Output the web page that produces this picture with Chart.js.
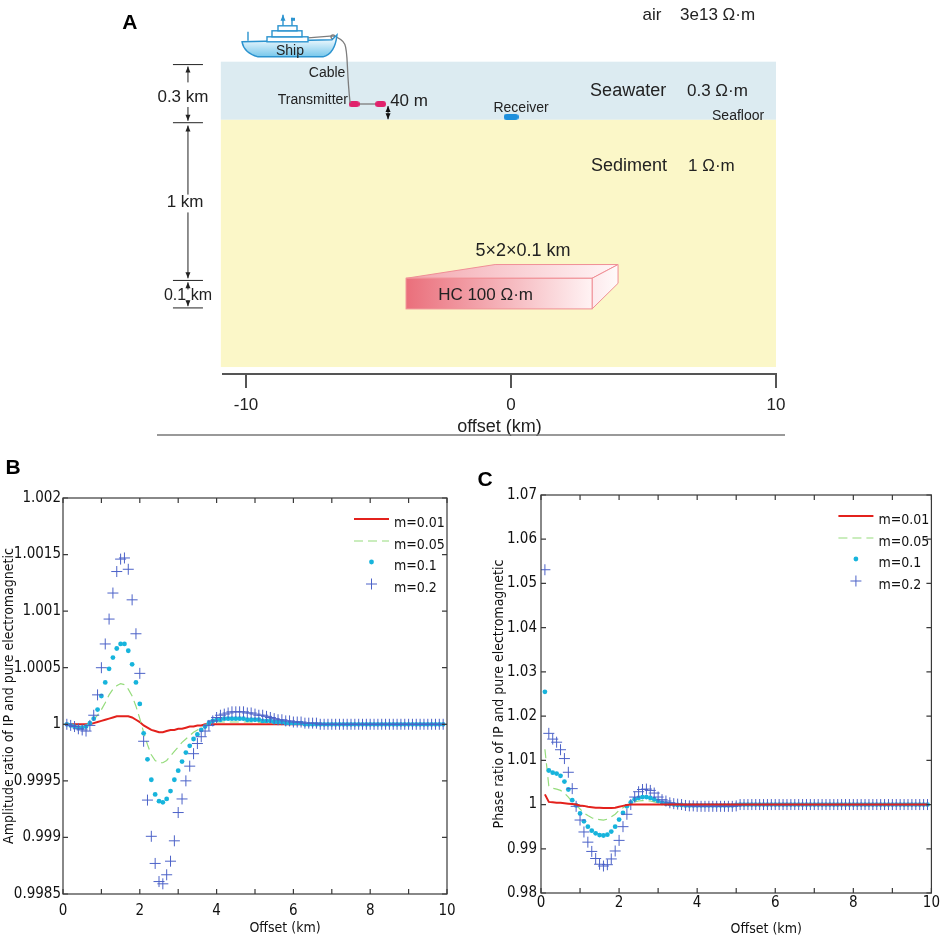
<!DOCTYPE html>
<html>
<head>
<meta charset="utf-8">
<script src="https://cdn.jsdelivr.net/npm/chart.js@4.4.1/dist/chart.umd.min.js"></script>
<style>
  html, body { margin: 0; padding: 0; background: #fff; }
  #page { position: relative; width: 941px; height: 945px; overflow: hidden; }
  .panel { position: absolute; }
</style>
</head>
<body>
<div id="page">
  <div class="panel" style="left:0;top:0;width:941px;height:440px"><canvas id="chartA"></canvas></div>
  <div class="panel" style="left:0;top:455px;width:470px;height:490px"><canvas id="chartB"></canvas></div>
  <div class="panel" style="left:470px;top:455px;width:471px;height:490px"><canvas id="chartC"></canvas></div>
</div>
<script>
// ---------------------------------------------------------------
// Data
// ---------------------------------------------------------------

var seriesNames = ['m=0.01', 'm=0.05', 'm=0.1', 'm=0.2'];

// offsets (km) of the marker series
var offsets = [
  0.1, 0.2, 0.3, 0.4, 0.5, 0.6, 0.7, 0.8, 0.9, 1.0,
  1.1, 1.2, 1.3, 1.4, 1.5, 1.6, 1.7, 1.8, 1.9, 2.0,
  2.1, 2.2, 2.3, 2.4, 2.5, 2.6, 2.7, 2.8, 2.9, 3.0,
  3.1, 3.2, 3.3, 3.4, 3.5, 3.6, 3.7, 3.8, 3.9, 4.0,
  4.1, 4.2, 4.3, 4.4, 4.5, 4.6, 4.7, 4.8, 4.9, 5.0,
  5.1, 5.2, 5.3, 5.4, 5.5, 5.6, 5.7, 5.8, 5.9, 6.0,
  6.1, 6.2, 6.3, 6.4, 6.5, 6.6, 6.7, 6.8, 6.9, 7.0,
  7.1, 7.2, 7.3, 7.4, 7.5, 7.6, 7.7, 7.8, 7.9, 8.0,
  8.1, 8.2, 8.3, 8.4, 8.5, 8.6, 8.7, 8.8, 8.9, 9.0,
  9.1, 9.2, 9.3, 9.4, 9.5, 9.6, 9.7, 9.8, 9.9
];

// offsets (km) of the line series
var lineOffsets = [
  0.1, 0.2, 0.3, 0.4, 0.5, 0.6, 0.7, 0.8, 0.9, 1.0,
  1.1, 1.2, 1.3, 1.4, 1.5, 1.6, 1.7, 1.8, 1.9, 2.0,
  2.1, 2.2, 2.3, 2.4, 2.5, 2.6, 2.7, 2.8, 2.9, 3.0,
  3.1, 3.2, 3.3, 3.4, 3.5, 3.6, 3.7, 3.8, 3.9, 4.0,
  4.5, 5.0, 5.5, 6.0, 7.0, 8.0, 9.0, 9.9
];

// B: amplitude ratio
var ampM001 = [
  1, 1, 1, 1, 1, 1, 1.00000, 1.00001, 1.00002, 1.00003,
  1.00004, 1.00005, 1.00006, 1.00007, 1.00007, 1.00007, 1.00007, 1.00006, 1.00004, 1.00002,
  0.99999, 0.99997, 0.99995, 0.99994, 0.99993, 0.99993, 0.99994, 0.99995, 0.99995, 0.99996,
  0.99996, 0.99997, 0.99998, 0.99998, 0.99999, 0.99999, 1.00000, 1.00000, 1.00000, 1.00000,
  1, 1, 1, 1, 1, 1, 1, 1
];
var ampM005 = [
  1.00000, 1.00000, 0.99999, 0.99998, 0.99998, 0.99999, 1.00001, 1.00004, 1.00008, 1.00013,
  1.00019, 1.00026, 1.00031, 1.00034, 1.00036, 1.00035, 1.00031, 1.00025, 1.00016, 1.00005,
  0.99993, 0.99982, 0.99973, 0.99968, 0.99966, 0.99966, 0.99968, 0.99972, 0.99976, 0.99980,
  0.99984, 0.99987, 0.99990, 0.99993, 0.99995, 0.99997, 0.99999, 1.00000, 1.00001, 1.00002,
  1.00002, 1.00002, 1.00001, 1, 1, 1, 1, 1
];
var ampM01 = [
  1.00000, 0.99999, 0.99998, 0.99997, 0.99997, 0.99998, 1.00001, 1.00005, 1.00013, 1.00025,
  1.00037, 1.00049, 1.00059, 1.00067, 1.00071, 1.00071, 1.00065, 1.00053, 1.00037, 1.00018,
  0.99992, 0.99969, 0.99951, 0.99938, 0.99932, 0.99931, 0.99934, 0.99941, 0.99951, 0.99959,
  0.99967, 0.99975, 0.99981, 0.99987, 0.99991, 0.99995, 0.99998, 1.00001, 1.00003, 1.00004,
  1.00004, 1.00005, 1.00005, 1.00005, 1.00005, 1.00005, 1.00005, 1.00004, 1.00004, 1.00004,
  1.00004, 1.00003, 1.00003, 1.00003, 1.00002, 1.00002, 1.00002, 1.00001, 1.00001, 1.00001,
  1.00001, 1.00001, 1, 1, 1, 1, 1, 1, 1, 1,
  1, 1, 1, 1, 1, 1, 1, 1, 1, 1,
  1, 1, 1, 1, 1, 1, 1, 1, 1, 1,
  1, 1, 1, 1, 1, 1, 1, 1, 1
];
var ampM02 = [
  1.00000, 0.99999, 0.99998, 0.99996, 0.99995, 0.99994, 0.99999, 1.00008, 1.00026, 1.00050,
  1.00071, 1.00093, 1.00116, 1.00135, 1.00146, 1.00147, 1.00137, 1.00110, 1.00080, 1.00045,
  0.99985, 0.99933, 0.99901, 0.99877, 0.99861, 0.99859, 0.99867, 0.99879, 0.99897, 0.99922,
  0.99934, 0.99950, 0.99963, 0.99974, 0.99983, 0.99989, 0.99994, 0.99999, 1.00003, 1.00006,
  1.00008, 1.00009, 1.00010, 1.00011, 1.00011, 1.00011, 1.00011, 1.00010, 1.00010, 1.00009,
  1.00008, 1.00008, 1.00007, 1.00006, 1.00005, 1.00004, 1.00004, 1.00003, 1.00003, 1.00002,
  1.00002, 1.00002, 1.00001, 1.00001, 1.00001, 1.00001, 1, 1, 1, 1,
  1, 1, 1, 1, 1, 1, 1, 1, 1, 1,
  1, 1, 1, 1, 1, 1, 1, 1, 1, 1,
  1, 1, 1, 1, 1, 1, 1, 1, 1
];

// C: phase ratio
var phaseM001 = [
  1.0023, 1.0006, 1.0005, 1.0004, 1.0004, 1.0003, 1.0002, 1.0001, 1.0000, 0.9998,
  0.9997, 0.9995, 0.9994, 0.9993, 0.9993, 0.9992, 0.9992, 0.9992, 0.9993, 0.9995,
  0.9997, 0.9999, 1.0000, 1.0000, 1.0000, 1.0000, 1.0000, 1.0000, 1.0000, 1.0000,
  1, 1, 1, 1, 1, 1, 1, 1, 1, 1,
  1, 1, 1, 1, 1, 1, 1, 1
];
var phaseM005 = [
  1.0125, 1.0042, 1.0037, 1.0035, 1.0032, 1.0026, 1.0017, 1.0006, 0.9999, 0.9990,
  0.9981, 0.9975, 0.9970, 0.9967, 0.9966, 0.9965, 0.9967, 0.9972, 0.9978, 0.9987,
  0.9993, 0.9998, 1.0003, 1.0006, 1.0008, 1.0009, 1.0009, 1.0008, 1.0006, 1.0004,
  1.0002, 1.0001, 1.0000, 1.0000, 0.9999, 0.9999, 0.9999, 0.9999, 0.9999, 0.9999,
  0.9999, 0.9999, 1, 1, 1, 1, 1, 1
];
var phaseM01 = [
  1.0255, 1.0077, 1.0072, 1.0070, 1.0065, 1.0052, 1.0034, 1.0010, 0.9998, 0.9980,
  0.9962, 0.9950, 0.9941, 0.9935, 0.9931, 0.9930, 0.9932, 0.9939, 0.9950, 0.9966,
  0.9981, 0.9996, 1.0005, 1.0012, 1.0015, 1.0017, 1.0017, 1.0015, 1.0012, 1.0008,
  1.0004, 1.0002, 1.0001, 1.0000, 0.9999, 0.9999, 0.9998, 0.9998, 0.9998, 0.9998,
  0.9998, 0.9998, 0.9998, 0.9998, 0.9998, 0.9998, 0.9998, 0.9998, 0.9998, 0.9999,
  1, 1, 1, 1, 1, 1, 1, 1, 1, 1,
  1, 1, 1, 1, 1, 1, 1, 1, 1, 1,
  1, 1, 1, 1, 1, 1, 1, 1, 1, 1,
  1, 1, 1, 1, 1, 1, 1, 1, 1, 1,
  1, 1, 1, 1, 1, 1, 1, 1, 1
];
var phaseM02 = [
  1.0531, 1.0161, 1.0148, 1.0141, 1.0124, 1.0104, 1.0073, 1.0036, 0.9996, 0.9965,
  0.9938, 0.9915, 0.9894, 0.9878, 0.9865, 0.9861, 0.9864, 0.9877, 0.9895, 0.9919,
  0.9950, 0.9978, 1.0000, 1.0017, 1.0029, 1.0034, 1.0035, 1.0032, 1.0026, 1.0017,
  1.0011, 1.0008, 1.0004, 1.0002, 1.0001, 1.0000, 0.9998, 0.9997, 0.9997, 0.9996,
  0.9996, 0.9996, 0.9996, 0.9996, 0.9996, 0.9996, 0.9996, 0.9996, 0.9996, 0.9997,
  1, 1, 1, 1, 1, 1, 1, 1, 1, 1,
  1, 1, 1, 1, 1, 1, 1, 1, 1, 1,
  1, 1, 1, 1, 1, 1, 1, 1, 1, 1,
  1, 1, 1, 1, 1, 1, 1, 1, 1, 1,
  1, 1, 1, 1, 1, 1, 1, 1, 1
];

// A: survey layout (offset in km, schematic depth units)
var axisATicks = [-10, 0, 10];
var transmitterX = [-5.92, -4.92];
var transmitterDepth = 0.219;
var receiverX = [0];
var receiverDepth = 0.285;

// ---------------------------------------------------------------
// Schematic geometry and styles for panel A
// ---------------------------------------------------------------

var narrow = "'Liberation Sans Narrow', 'Arial Narrow', 'DejaVu Sans Condensed', 'Liberation Sans', sans-serif";
var plain = "'Liberation Sans', Arial, sans-serif";

var layersA = [
  { x0: -10.95, x1: 10, top: 0, bottom: 0.3, color: '#dcebf1' },
  { x0: -10.95, x1: 10, top: 0.3, bottom: 1.576, color: '#fbf7c8' }
];
var hcBlock = { x0: -3.96, x1: 3.06, bx0: -0.60, bx1: 4.04, top: 1.118, bottom: 1.276, backTop: 1.047, backBottom: 1.144 };
var shipAnchor = { x: -8.34, y: -0.02 };
var dimX = -12.19;
var dimBars = [0.015, 0.315, 1.129, 1.271];
var dimArrows = [[0.107, 0.025], [0.234, 0.305], [0.686, 0.330], [0.778, 1.118], [1.176, 1.139], [1.232, 1.262]];
var textsA = [
  ['A', -14.38, -0.198, 'bold 21px', 'center'],
  ['air', 5.32, -0.239, '17px', 'center'],
  ['3e13 \u03a9\u00b7m', 6.38, -0.239, '17px', 'left'],
  ['Ship', -8.34, -0.056, '14px', 'center'],
  ['Cable', -6.94, 0.061, '14px', 'center'],
  ['Transmitter', -6.15, 0.198, '14px', 'right'],
  ['40 m', -4.56, 0.203, '17px', 'left'],
  ['Receiver', 0.38, 0.239, '14px', 'center'],
  ['Seawater', 4.42, 0.153, '18px', 'center'],
  ['0.3 \u03a9\u00b7m', 6.64, 0.153, '17px', 'left'],
  ['Seafloor', 8.57, 0.28, '14px', 'center'],
  ['Sediment', 4.45, 0.539, '18px', 'center'],
  ['1 \u03a9\u00b7m', 6.68, 0.539, '17px', 'left'],
  ['5\u00d72\u00d70.1 km', 0.45, 0.976, '18px', 'center'],
  ['HC 100 \u03a9\u00b7m', -2.75, 1.205, '17px', 'left'],
  ['0.3 km', -12.38, 0.183, '17px', 'center'],
  ['1 km', -12.30, 0.727, '17px', 'center'],
  ['0.1 km', -12.19, 1.205, '16px', 'center']
];

// ---------------------------------------------------------------
// Helpers
// ---------------------------------------------------------------

function points(xs, ys) {
  return xs.map(function (x, i) { return { x: x, y: ys[i] }; });
}

function pill(color, w, h) {
  var c = document.createElement('canvas');
  c.width = w; c.height = h;
  var g = c.getContext('2d');
  g.fillStyle = color;
  g.beginPath();
  g.roundRect(0, 0, w, h, h / 2);
  g.fill();
  return c;
}

function arrow(ctx, x, yFrom, yTo) {
  var dir = yTo > yFrom ? 1 : -1;
  ctx.beginPath();
  ctx.moveTo(x, yFrom);
  ctx.lineTo(x, yTo);
  ctx.stroke();
  ctx.beginPath();
  ctx.moveTo(x, yTo);
  ctx.lineTo(x - 2.5, yTo - dir * 6);
  ctx.lineTo(x + 2.5, yTo - dir * 6);
  ctx.closePath();
  ctx.fill();
}

function drawShip(ctx, cx, by) {
  var g = ctx.createLinearGradient(0, by - 18, 0, by);
  g.addColorStop(0, '#eaf7fd');
  g.addColorStop(1, '#6fc4ea');
  ctx.beginPath();
  ctx.moveTo(cx - 48, by - 16);
  ctx.lineTo(cx + 42, by - 18);
  ctx.lineTo(cx + 47, by - 23);
  ctx.quadraticCurveTo(cx + 45, by - 4, cx + 33, by - 1);
  ctx.lineTo(cx - 32, by - 1);
  ctx.quadraticCurveTo(cx - 46, by - 5, cx - 48, by - 16);
  ctx.closePath();
  ctx.fillStyle = g;
  ctx.fill();
  ctx.strokeStyle = '#2b93cf';
  ctx.lineWidth = 1.4;
  ctx.stroke();

  ctx.fillStyle = '#fff';
  [[-23, -21, 41, 5], [-18, -27, 30, 6], [-12, -32, 19, 5]].forEach(function (r) {
    ctx.fillRect(cx + r[0], by + r[1], r[2], r[3]);
    ctx.strokeRect(cx + r[0], by + r[1], r[2], r[3]);
  });

  ctx.fillStyle = '#2b93cf';
  arrow(ctx, cx - 7, by - 32, by - 43);
  ctx.beginPath();
  ctx.moveTo(cx + 2, by - 32); ctx.lineTo(cx + 2, by - 40);
  ctx.moveTo(cx - 42, by - 17); ctx.lineTo(cx - 42, by - 26);
  ctx.stroke();
  ctx.fillRect(cx + 1, by - 40, 4, 3);
}

// ---------------------------------------------------------------
// Plugins
// ---------------------------------------------------------------

var schematic = {
  id: 'schematic',
  beforeDatasetsDraw: function (chart) {
    var ctx = chart.ctx, xs = chart.scales.x, ys = chart.scales.y;
    var X = function (v) { return xs.getPixelForValue(v); };
    var Y = function (v) { return ys.getPixelForValue(v); };
    ctx.save();
    layersA.forEach(function (L) {
      ctx.fillStyle = L.color;
      ctx.fillRect(X(L.x0), Y(L.top), X(L.x1) - X(L.x0), Y(L.bottom) - Y(L.top));
    });

    // hydrocarbon block
    var b = hcBlock;
    ctx.strokeStyle = '#f08f96';
    ctx.lineWidth = 1;
    var gt = ctx.createLinearGradient(X(b.x0), 0, X(b.bx1), 0);
    gt.addColorStop(0, '#f3a6ae'); gt.addColorStop(1, '#fff6f7');
    ctx.beginPath();
    ctx.moveTo(X(b.x0), Y(b.top)); ctx.lineTo(X(b.bx0), Y(b.backTop));
    ctx.lineTo(X(b.bx1), Y(b.backTop)); ctx.lineTo(X(b.x1), Y(b.top));
    ctx.closePath(); ctx.fillStyle = gt; ctx.fill(); ctx.stroke();
    var gs = ctx.createLinearGradient(X(b.x1), 0, X(b.bx1), 0);
    gs.addColorStop(0, '#fde9ec'); gs.addColorStop(1, '#fffafa');
    ctx.beginPath();
    ctx.moveTo(X(b.x1), Y(b.top)); ctx.lineTo(X(b.bx1), Y(b.backTop));
    ctx.lineTo(X(b.bx1), Y(b.backBottom)); ctx.lineTo(X(b.x1), Y(b.bottom));
    ctx.closePath(); ctx.fillStyle = gs; ctx.fill(); ctx.stroke();
    var gf = ctx.createLinearGradient(X(b.x0), 0, X(b.x1), 0);
    gf.addColorStop(0, '#ea6f7b'); gf.addColorStop(1, '#fff3f4');
    ctx.fillStyle = gf;
    ctx.fillRect(X(b.x0), Y(b.top), X(b.x1) - X(b.x0), Y(b.bottom) - Y(b.top));
    ctx.strokeRect(X(b.x0), Y(b.top), X(b.x1) - X(b.x0), Y(b.bottom) - Y(b.top));
    ctx.restore();
  },
  afterDatasetsDraw: function (chart) {
    var ctx = chart.ctx, xs = chart.scales.x, ys = chart.scales.y;
    var X = function (v) { return xs.getPixelForValue(v); };
    var Y = function (v) { return ys.getPixelForValue(v); };
    ctx.save();

    // ship and cable
    var sx = X(shipAnchor.x), sy = Y(shipAnchor.y);
    var tx = X(transmitterX[0]) - 4, ty = Y(transmitterDepth) - 1;
    ctx.strokeStyle = '#7d7d7d';
    ctx.lineWidth = 1.3;
    ctx.beginPath();
    ctx.moveTo(sx + 18, sy - 20);
    ctx.lineTo(sx + 43, sy - 22);
    ctx.bezierCurveTo(sx + 62, sy - 16, tx - 6, ty - 55, tx, ty);
    ctx.stroke();
    ctx.beginPath();
    ctx.arc(sx + 43, sy - 21, 2, 0, Math.PI * 2);
    ctx.stroke();
    drawShip(ctx, sx, sy);

    // 40 m double arrow
    ctx.strokeStyle = '#111';
    ctx.fillStyle = '#111';
    ctx.lineWidth = 1;
    var ax = X(-4.64);
    arrow(ctx, ax, Y(0.262), Y(0.229));
    arrow(ctx, ax, Y(0.262), Y(0.297));

    // dimension marks on the left
    ctx.strokeStyle = '#222';
    ctx.fillStyle = '#222';
    var dx = X(dimX);
    dimBars.forEach(function (v) {
      ctx.beginPath();
      ctx.moveTo(dx - 15, Y(v)); ctx.lineTo(dx + 15, Y(v));
      ctx.stroke();
    });
    dimArrows.forEach(function (a) { arrow(ctx, dx, Y(a[0]), Y(a[1])); });

    // labels
    ctx.textBaseline = 'middle';
    textsA.forEach(function (t) {
      ctx.font = t[3] + ' ' + plain;
      ctx.textAlign = t[4];
      ctx.fillStyle = t[0] === 'A' ? '#000' : '#222';
      ctx.fillText(t[0], X(t[1]), Y(t[2]));
    });

    // separator under panel A
    ctx.strokeStyle = '#777';
    ctx.lineWidth = 1.5;
    ctx.beginPath();
    ctx.moveTo(X(-13.36), Y(1.927));
    ctx.lineTo(X(10.34), Y(1.927));
    ctx.stroke();
    ctx.restore();
  }
};

var boxTicks = {
  id: 'boxTicks',
  afterDraw: function (chart, args, o) {
    var ctx = chart.ctx, a = chart.chartArea, xs = chart.scales.x, ys = chart.scales.y;
    ctx.save();
    ctx.strokeStyle = '#3a3a3a';
    ctx.lineWidth = 1.2;
    ctx.strokeRect(a.left, a.top, a.right - a.left, a.bottom - a.top);
    ctx.beginPath();
    xs.ticks.forEach(function (t) {
      var p = xs.getPixelForValue(t.value);
      ctx.moveTo(p, a.bottom); ctx.lineTo(p, a.bottom - o.len);
      ctx.moveTo(p, a.top); ctx.lineTo(p, a.top + o.len);
    });
    ys.ticks.forEach(function (t) {
      var p = ys.getPixelForValue(t.value);
      ctx.moveTo(a.left, p); ctx.lineTo(a.left + o.len, p);
      ctx.moveTo(a.right, p); ctx.lineTo(a.right - o.len, p);
    });
    ctx.stroke();
    ctx.restore();
  }
};

var insetLegend = {
  id: 'insetLegend',
  afterDatasetsDraw: function (chart, args, o) {
    var ctx = chart.ctx, a = chart.chartArea;
    ctx.save();
    ctx.font = o.size + 'px ' + narrow;
    ctx.textBaseline = 'middle';
    ctx.textAlign = 'left';
    chart.data.datasets.forEach(function (ds, i) {
      var row = a.top + o.rows[i];
      var x0 = a.right + o.sample[0], x1 = a.right + o.sample[1], xm = (x0 + x1) / 2;
      var my = row - 4;
      if (ds.showLine) {
        ctx.strokeStyle = ds.borderColor;
        ctx.lineWidth = ds.borderWidth;
        ctx.setLineDash(ds.borderDash || []);
        ctx.beginPath(); ctx.moveTo(x0, my); ctx.lineTo(x1, my); ctx.stroke();
        ctx.setLineDash([]);
      } else if (ds.pointStyle === 'circle') {
        ctx.fillStyle = ds.backgroundColor;
        ctx.beginPath(); ctx.arc(xm, my, ds.pointRadius, 0, Math.PI * 2); ctx.fill();
      } else {
        ctx.strokeStyle = ds.borderColor;
        ctx.lineWidth = ds.borderWidth;
        ctx.beginPath();
        ctx.moveTo(xm - ds.pointRadius, my); ctx.lineTo(xm + ds.pointRadius, my);
        ctx.moveTo(xm, my - ds.pointRadius); ctx.lineTo(xm, my + ds.pointRadius);
        ctx.stroke();
      }
      ctx.fillStyle = '#111';
      ctx.fillText(ds.label, a.right + o.textX, row);
    });
    ctx.restore();
  }
};

var panelLabel = {
  id: 'panelLabel',
  afterDraw: function (chart, args, o) {
    var ctx = chart.ctx;
    ctx.save();
    ctx.font = 'bold 21px ' + plain;
    ctx.fillStyle = '#000';
    ctx.textAlign = 'center';
    ctx.textBaseline = 'middle';
    ctx.fillText(o.text, o.x, o.y);
    ctx.restore();
  }
};

// ---------------------------------------------------------------
// Charts
// ---------------------------------------------------------------

new Chart(document.getElementById('chartA'), {
  type: 'scatter',
  data: {
    datasets: [
      { label: 'Transmitter', data: points(transmitterX, [transmitterDepth, transmitterDepth]),
        showLine: true, borderColor: '#8a8a8a', borderWidth: 1.5,
        pointStyle: pill('#e0226c', 11, 6) },
      { label: 'Receiver', data: points(receiverX, [receiverDepth]),
        pointStyle: pill('#1e8fdc', 15, 6) }
    ]
  },
  options: {
    responsive: true, maintainAspectRatio: false, animation: false, events: [],
    layout: { padding: { left: 223, right: 165, top: 0, bottom: 0 } },
    plugins: { legend: { display: false }, tooltip: { enabled: false } },
    scales: {
      x: {
        type: 'linear', min: -10.868, max: 10,
        afterBuildTicks: function (s) { s.ticks = axisATicks.map(function (v) { return { value: v }; }); },
        grid: { display: true, drawOnChartArea: false, drawTicks: true, tickLength: 14, color: '#555', lineWidth: 2 },
        border: { display: true, color: '#555', width: 2 },
        ticks: { padding: 7, maxRotation: 0, font: { family: plain, size: 17 }, color: '#222' },
        title: { display: true, text: 'offset (km)', color: '#222', font: { family: plain, size: 18 }, padding: { top: 0, bottom: 2 } },
        afterFit: function (s) { s.height = 66; }
      },
      y: { display: false, reverse: true, min: -0.29, max: 1.612 }
    }
  },
  plugins: [schematic]
});

function ratioChart(id, o) {
  return new Chart(document.getElementById(id), {
    type: 'scatter',
    data: {
      datasets: [
        { label: seriesNames[0], data: points(lineOffsets, o.m001), showLine: true,
          borderColor: '#e3211c', borderWidth: 2, pointRadius: 0, order: o.redOrder },
        { label: seriesNames[1], data: points(lineOffsets, o.m005), showLine: true,
          borderColor: '#95dc7c', borderWidth: 1.2, borderDash: [9, 5], pointRadius: 0, order: 3 },
        { label: seriesNames[2], data: points(offsets, o.m01), showLine: false,
          pointStyle: 'circle', pointRadius: 2.4, backgroundColor: '#17b4dc', borderWidth: 0, order: 2 },
        { label: seriesNames[3], data: points(offsets, o.m02), showLine: false,
          pointStyle: 'cross', pointRadius: 5.5, borderColor: '#4c62c8', borderWidth: 1, order: 1 }
      ]
    },
    options: {
      responsive: true, maintainAspectRatio: false, animation: false, events: [],
      layout: { padding: { top: o.top, right: o.right, left: 0, bottom: 0 } },
      plugins: {
        legend: { display: false },
        tooltip: { enabled: false },
        boxTicks: { len: 5 },
        insetLegend: { size: 14, rows: [25, 47, 68, 90], sample: [-93, -58], textX: -53 },
        panelLabel: o.label
      },
      scales: {
        x: {
          type: 'linear', min: 0, max: 10,
          grid: { display: false, drawTicks: false },
          border: { display: false },
          ticks: {
            stepSize: 1, autoSkip: false, maxRotation: 0, padding: o.xPad, color: '#111',
            font: { family: narrow, size: 15 },
            callback: function (v) { return v % 2 === 0 ? String(v) : ''; }
          },
          title: { display: true, text: '\u00a0'.repeat(15) + 'Offset (km)', color: '#111',
                   font: { family: narrow, size: 14 }, padding: { top: 0, bottom: o.xTitlePad } },
          afterFit: function (s) { s.height = o.xHeight; }
        },
        y: {
          type: 'linear', min: o.ymin, max: o.ymax,
          grid: { display: false, drawTicks: false },
          border: { display: false },
          ticks: {
            stepSize: o.step, padding: o.yPad, color: '#111',
            font: { family: narrow, size: 15 },
            callback: function (v) { return String(Number(v.toFixed(o.dec))); }
          },
          title: { display: true, text: o.yTitle, color: '#111',
                   font: { family: narrow, size: o.yTitleSize }, padding: { top: o.yTitlePad, bottom: 0 } },
          afterFit: function (s) { s.width = o.yWidth; }
        }
      }
    },
    plugins: [boxTicks, insetLegend, panelLabel]
  });
}

ratioChart('chartB', {
  m001: ampM001, m005: ampM005, m01: ampM01, m02: ampM02, redOrder: 4,
  top: 43, right: 23, xHeight: 51, yWidth: 63, xPad: 8, yPad: 2, xTitlePad: 8,
  ymin: 0.9985, ymax: 1.002, step: 0.0005, dec: 4,
  yTitle: 'Amplitude ratio of IP and pure electromagnetic', yTitleSize: 14, yTitlePad: 1,
  label: { text: 'B', x: 13, y: 13 }
});

ratioChart('chartC', {
  m001: phaseM001, m005: phaseM005, m01: phaseM01, m02: phaseM02, redOrder: 0,
  top: 40, right: 9, xHeight: 52, yWidth: 71, xPad: 1, yPad: 4, xTitlePad: 7,
  ymin: 0.98, ymax: 1.07, step: 0.01, dec: 2,
  yTitle: 'Phase ratio of IP and pure electromagnetic', yTitleSize: 14, yTitlePad: 21,
  label: { text: 'C', x: 15, y: 25 }
});
</script>
</body>
</html>
